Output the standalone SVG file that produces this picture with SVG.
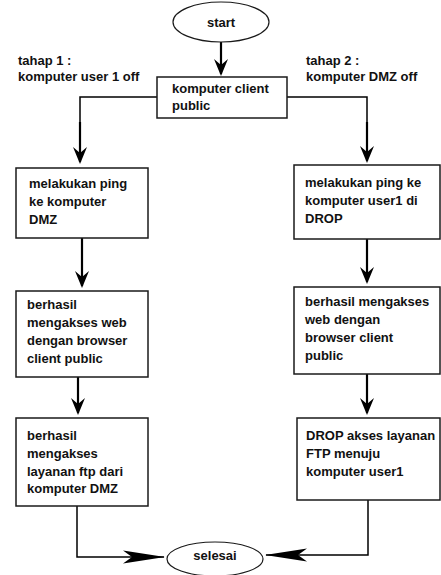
<svg xmlns="http://www.w3.org/2000/svg" width="441" height="575" viewBox="0 0 441 575">
<style>
.bx{fill:#fff;stroke:#1a1a1a;stroke-width:1.5}
.el{fill:#fff;stroke:#1a1a1a;stroke-width:1.2}
.t{font-family:"Liberation Sans",Arial,sans-serif;font-weight:bold;font-size:13px;fill:#111}
.c{fill:none;stroke:#000;stroke-width:1.5}
.a{fill:none;stroke:#000;stroke-width:2.2}
</style>
<defs>
<marker id="ah" markerUnits="userSpaceOnUse" viewBox="-18 -8 20 16" refX="-2" refY="0" markerWidth="20" markerHeight="16" orient="auto">
<path d="M0,0 L-17,-7 L-11,0 L-17,7 Z" fill="#000"/>
</marker>
<marker id="al" markerUnits="userSpaceOnUse" viewBox="-44 -8 46 16" refX="-1" refY="0" markerWidth="46" markerHeight="16" orient="auto">
<path d="M0,0 L-42,-6.5 L-33,0 L-42,6.5 Z" fill="#000"/>
</marker>
</defs>
<g id="connectors">
<line class="a" x1="221" y1="42" x2="221" y2="74" marker-end="url(#ah)"/>
<polyline class="c" points="157,97 80,97 80,122"/>
<line class="a" x1="80" y1="122" x2="80" y2="162" marker-end="url(#ah)"/>
<polyline class="c" points="287,97 367,97 367,122"/>
<line class="a" x1="367" y1="122" x2="367" y2="161" marker-end="url(#ah)"/>
<line class="a" x1="82" y1="238" x2="82" y2="286" marker-end="url(#ah)"/>
<line class="a" x1="367" y1="239" x2="367" y2="282" marker-end="url(#ah)"/>
<line class="a" x1="78" y1="377" x2="78" y2="413" marker-end="url(#ah)"/>
<line class="a" x1="367" y1="374" x2="367" y2="413" marker-end="url(#ah)"/>
<polyline class="c" points="77,506 77,557 164,557" marker-end="url(#al)"/>
<polyline class="c" points="368,500 368,555 266,555" marker-end="url(#al)"/>
</g>
<g id="start">
<ellipse class="el" cx="221" cy="22" rx="48" ry="20"/>
<text class="t" x="221" y="27" text-anchor="middle">start</text>
</g>
<g id="label1">
<text class="t" x="18" y="65">tahap 1 :</text>
<text class="t" x="18" y="81">komputer user 1 off</text>
</g>
<g id="label2">
<text class="t" x="306" y="65">tahap 2 :</text>
<text class="t" x="306" y="81">komputer DMZ off</text>
</g>
<g id="client">
<rect class="bx" x="157" y="77" width="130" height="41"/>
<text class="t" x="172" y="93">komputer client</text>
<text class="t" x="172" y="110">public</text>
</g>
<g id="l1">
<rect class="bx" x="16" y="168" width="132" height="70"/>
<text class="t" x="29" y="188">melakukan ping</text>
<text class="t" x="29" y="206">ke komputer</text>
<text class="t" x="29" y="224">DMZ</text>
</g>
<g id="r1">
<rect class="bx" x="294" y="165" width="146" height="74"/>
<text class="t" x="305" y="187">melakukan ping ke</text>
<text class="t" x="305" y="205">komputer user1 di</text>
<text class="t" x="305" y="223">DROP</text>
</g>
<g id="l2">
<rect class="bx" x="16" y="291" width="132" height="86"/>
<text class="t" x="27" y="309">berhasil</text>
<text class="t" x="27" y="327">mengakses web</text>
<text class="t" x="27" y="345">dengan browser</text>
<text class="t" x="27" y="363">client public</text>
</g>
<g id="r2">
<rect class="bx" x="294" y="287" width="146" height="87"/>
<text class="t" x="305" y="306">berhasil mengakses</text>
<text class="t" x="305" y="324">web dengan</text>
<text class="t" x="305" y="342">browser client</text>
<text class="t" x="305" y="360">public</text>
</g>
<g id="l3">
<rect class="bx" x="16" y="418" width="132" height="88"/>
<text class="t" x="27" y="440">berhasil</text>
<text class="t" x="27" y="458">mengakses</text>
<text class="t" x="27" y="476">layanan ftp dari</text>
<text class="t" x="27" y="493">komputer DMZ</text>
</g>
<g id="r3">
<rect class="bx" x="297" y="418" width="143" height="82"/>
<text class="t" x="306" y="440">DROP akses layanan</text>
<text class="t" x="306" y="458">FTP menuju</text>
<text class="t" x="306" y="476">komputer user1</text>
</g>
<g id="selesai">
<ellipse class="el" cx="215" cy="559" rx="48" ry="17"/>
<text class="t" x="215" y="560" text-anchor="middle">selesai</text>
</g>
</svg>
